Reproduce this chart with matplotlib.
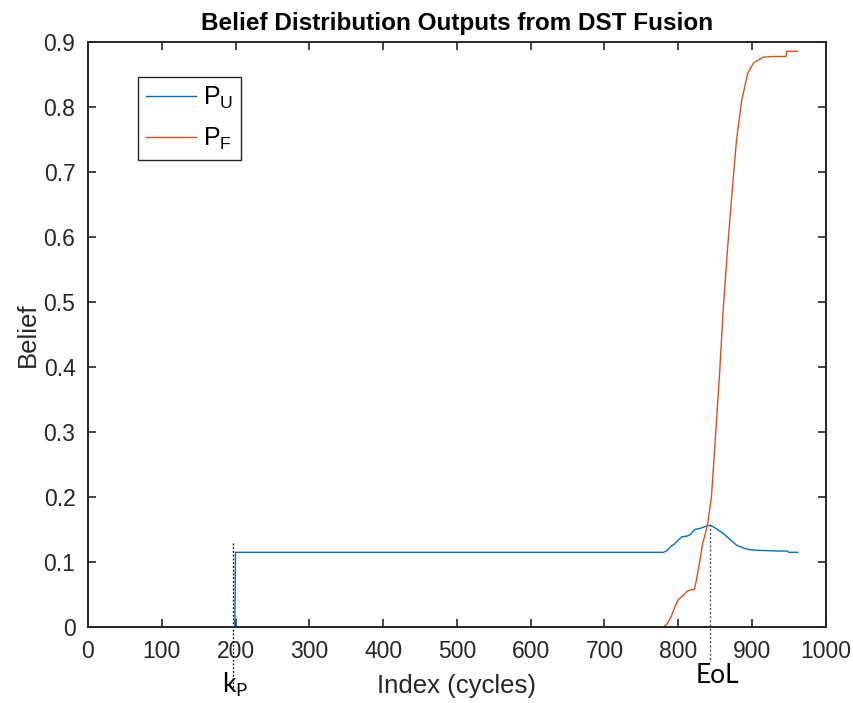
import matplotlib.pyplot as plt

# P_U (uncertainty) belief
pu_x = [0, 199, 200, 780, 785, 790, 795, 800, 805, 812, 816, 822, 830, 840, 845,
        852, 860, 870, 879, 890, 897, 910, 938, 948, 950, 962]
pu_y = [0, 0, 0.115, 0.115, 0.118, 0.124, 0.128, 0.134, 0.139, 0.140, 0.142, 0.150,
        0.152, 0.156, 0.156, 0.151, 0.145, 0.135, 0.126, 0.121, 0.119, 0.118, 0.117,
        0.117, 0.115, 0.115]

# P_F (failure) belief
pf_x = [0, 780, 785, 790, 795, 800, 806, 812, 816, 822, 825, 829, 833, 837, 840,
        845, 851, 856, 861, 867, 873, 879, 886, 894, 902, 915, 930, 946, 947, 962]
pf_y = [0, 0, 0.005, 0.015, 0.03, 0.042, 0.048, 0.055, 0.057, 0.058, 0.075, 0.10,
        0.128, 0.145, 0.16, 0.20, 0.303, 0.39, 0.49, 0.585, 0.67, 0.75, 0.81, 0.852,
        0.868, 0.877, 0.878, 0.878, 0.886, 0.886]

k_p = 197
eol = 843

plt.rcParams["font.family"] = ["Liberation Sans", "DejaVu Sans"]
dark = "#262626"

fig = plt.figure(figsize=(8.54, 7.03), dpi=100)
ax = fig.add_axes([0.103, 0.108, 0.864, 0.832])

ax.plot(pu_x, pu_y, color="#0072BD", lw=1.0, label=r"P$_\mathregular{U}$")
ax.plot(pf_x, pf_y, color="#D95319", lw=1.0, label=r"P$_\mathregular{F}$")

# markers for k_P and EoL, running below the axis
ax.plot([k_p, k_p], [0.13, -0.093], color="black", ls=(0, (1.5, 1.5)), lw=0.9,
        clip_on=False)
ax.plot([eol, eol], [0.158, -0.05], color="#555555", ls=(0, (1.5, 1.5)), lw=1.0,
        clip_on=False)
ax.text(k_p + 3, -0.089, r"k$_\mathregular{P}$", ha="center", va="center",
        fontsize=19, family="Lato", color="black")
ax.text(eol + 10, -0.074, "EoL", ha="center", va="center",
        fontsize=19, family="Lato", color="black")

ax.set_xlim(0, 1000)
ax.set_ylim(0, 0.9)
ax.set_xticks(range(0, 1001, 100))
ax.set_yticks([i / 10 for i in range(10)])
ax.set_yticklabels(["0"] + [f"{i / 10:.1f}" for i in range(1, 10)])
ax.tick_params(direction="in", length=6, width=1.2, colors=dark, labelsize=16.5,
               top=True, right=True, pad=9)
for sp in ax.spines.values():
    sp.set_linewidth(1.4)
    sp.set_color(dark)

ax.set_xlabel("Index (cycles)", fontsize=18.5, color=dark, labelpad=8)
ax.set_ylabel("Belief", fontsize=18.5, color=dark, labelpad=3)
ax.set_title("Belief Distribution Outputs from DST Fusion", fontsize=17.5,
             fontweight="bold", pad=9)

leg = ax.legend(loc="upper left", bbox_to_anchor=(0.068, 0.94), fontsize=18,
                fancybox=False, framealpha=1, edgecolor=dark, handlelength=2.0,
                borderpad=0.3, labelspacing=0.6, handletextpad=0.3,
                borderaxespad=0)
leg.get_frame().set_linewidth(1.0)

fig.savefig("out.png", dpi=100)
